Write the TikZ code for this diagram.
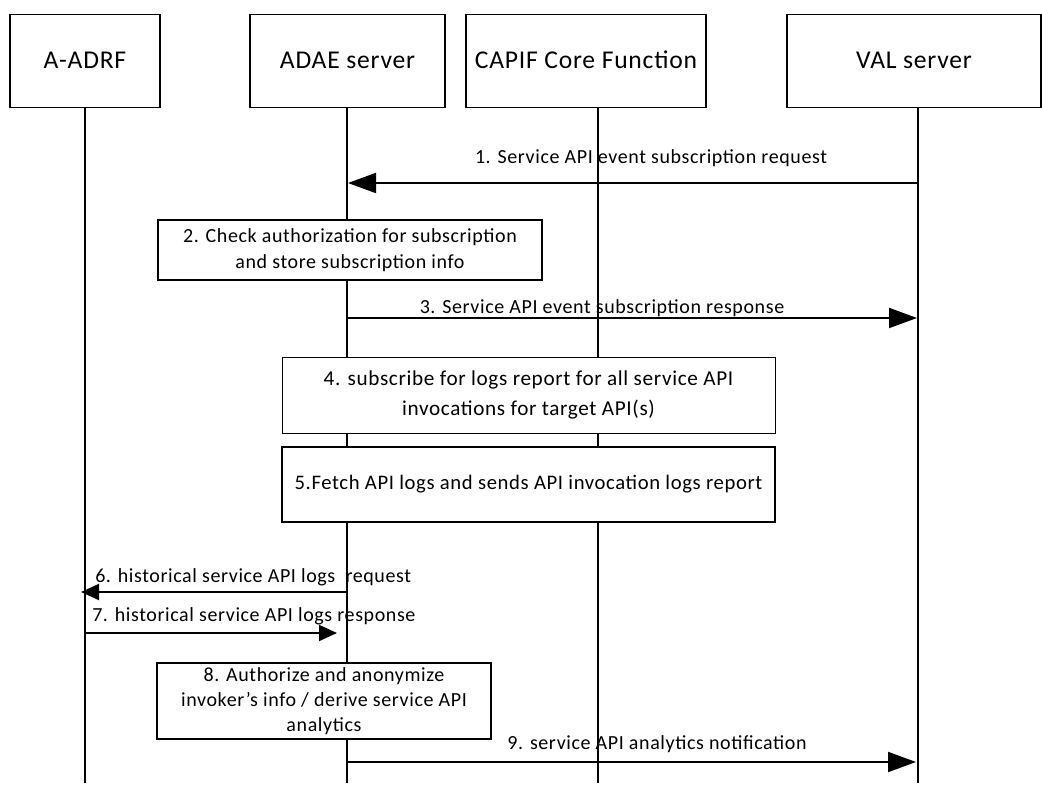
\documentclass[tikz,border=0pt]{standalone}
\usepackage{fontspec}
\setmainfont{Carlito}[LetterSpace=3]
\usetikzlibrary{arrows.meta,positioning,shapes}

\begin{document}
\begin{tikzpicture}[x=0.75pt,y=-0.75pt]
		\tikzstyle{entity} = [rectangle, draw, line width=1.3pt, font=\fontsize{19.2}{22}\selectfont, text centered, text height=1.15em, text depth=0pt, minimum height=69.75pt]
		\tikzstyle{stepbox} = [rectangle, draw, fill=white, line width=1.3pt, font=\fontsize{15}{19.5}\selectfont, align=center, inner sep=0pt]
		\tikzstyle{life} = [draw, line width=1.3pt]
		\tikzstyle{msg} = [draw, line width=1.5pt, -{Triangle[length=21pt,width=15pt]}]
		\tikzstyle{msgsmall} = [draw, line width=1.5pt, -{Triangle[length=13.5pt,width=12pt]}]
		\tikzstyle{label} = [font=\fontsize{15}{18}\selectfont, inner sep=0pt]
		\useasboundingbox (0,0) rectangle (1042,785);

		\node [entity, minimum width=112.5pt] (adrf) at (85,61) {A-ADRF};
		\node [entity, minimum width=146.25pt] (adae) at (347.5,61) {ADAE server};
		\node [entity, minimum width=180pt] (capif) at (586,61) {CAPIF Core Function};
		\node [entity, minimum width=190.5pt] (val) at (914,61) {VAL server};

		% lifelines
		\coordinate (adrf top) at (85,107);
		\coordinate (adae top) at (347,107);
		\coordinate (capif top) at (598,107);
		\coordinate (val top) at (918,107);
		\coordinate (adrf end) at (85,783);
		\coordinate (adae end) at (347,783);
		\coordinate (capif end) at (598,783);
		\coordinate (val end) at (918,783);
		\path[life] (adrf top) -- (adrf end);
		\path[life] (adae top) -- (adae end);
		\path[life] (capif top) -- (capif end);
		\path[life] (val top) -- (val end);

		% message end points
		\coordinate (m1a) at (918,183);
		\coordinate (m1b) at (348,183);
		\coordinate (m3a) at (347,318);
		\coordinate (m3b) at (917,318);
		\coordinate (m6a) at (347,592);
		\coordinate (m6b) at (81,592);
		\coordinate (m7a) at (85,633);
		\coordinate (m7b) at (337,633);
		\coordinate (m9a) at (347,762);
		\coordinate (m9b) at (916,762);

		\path (m1a) edge[msg] (m1b);
		\node [label] (l1) at (651,158) {1. Service API event subscription request};

		\node [stepbox, minimum width=288pt, minimum height=45pt] (auth) at (350,250) {2. Check authorization for subscription\\and store subscription info};

		\path (m3a) edge[msg] (m3b);
		\node [label] (l3) at (602,308) {3. Service API event subscription response};

		\node [stepbox, line width=0.6pt, font=\fontsize{15.9}{22}\selectfont, minimum width=369.75pt, minimum height=57pt] (subscribe) at (528.5,395) {4. subscribe for logs report for all service API\\invocations for target API(s)};
		\node [stepbox, font=\fontsize{15.5}{19.5}\selectfont, minimum width=369.75pt, minimum height=56.25pt] (fetch) at (528.5,484.5) {5.Fetch API logs and sends API invocation logs report};

		\path (m6a) edge[msgsmall] (m6b);
		\node [label, anchor=west] (l6) at (95,577) {6. historical service API logs \ request};
		\path (m7a) edge[msgsmall] (m7b);
		\node [label, anchor=west] (l7) at (92,616) {7. historical service API logs response};

		\node [stepbox, font=\fontsize{15}{19}\selectfont, minimum width=250.5pt, minimum height=57pt] (anon) at (324,701) {8. Authorize and anonymize\\invoker’s info / derive service API\\analytics};

		\path (m9a) edge[msg] (m9b);
		\node [label] (l9) at (657,744) {9. service API analytics notification};
	\end{tikzpicture}
\end{document}
